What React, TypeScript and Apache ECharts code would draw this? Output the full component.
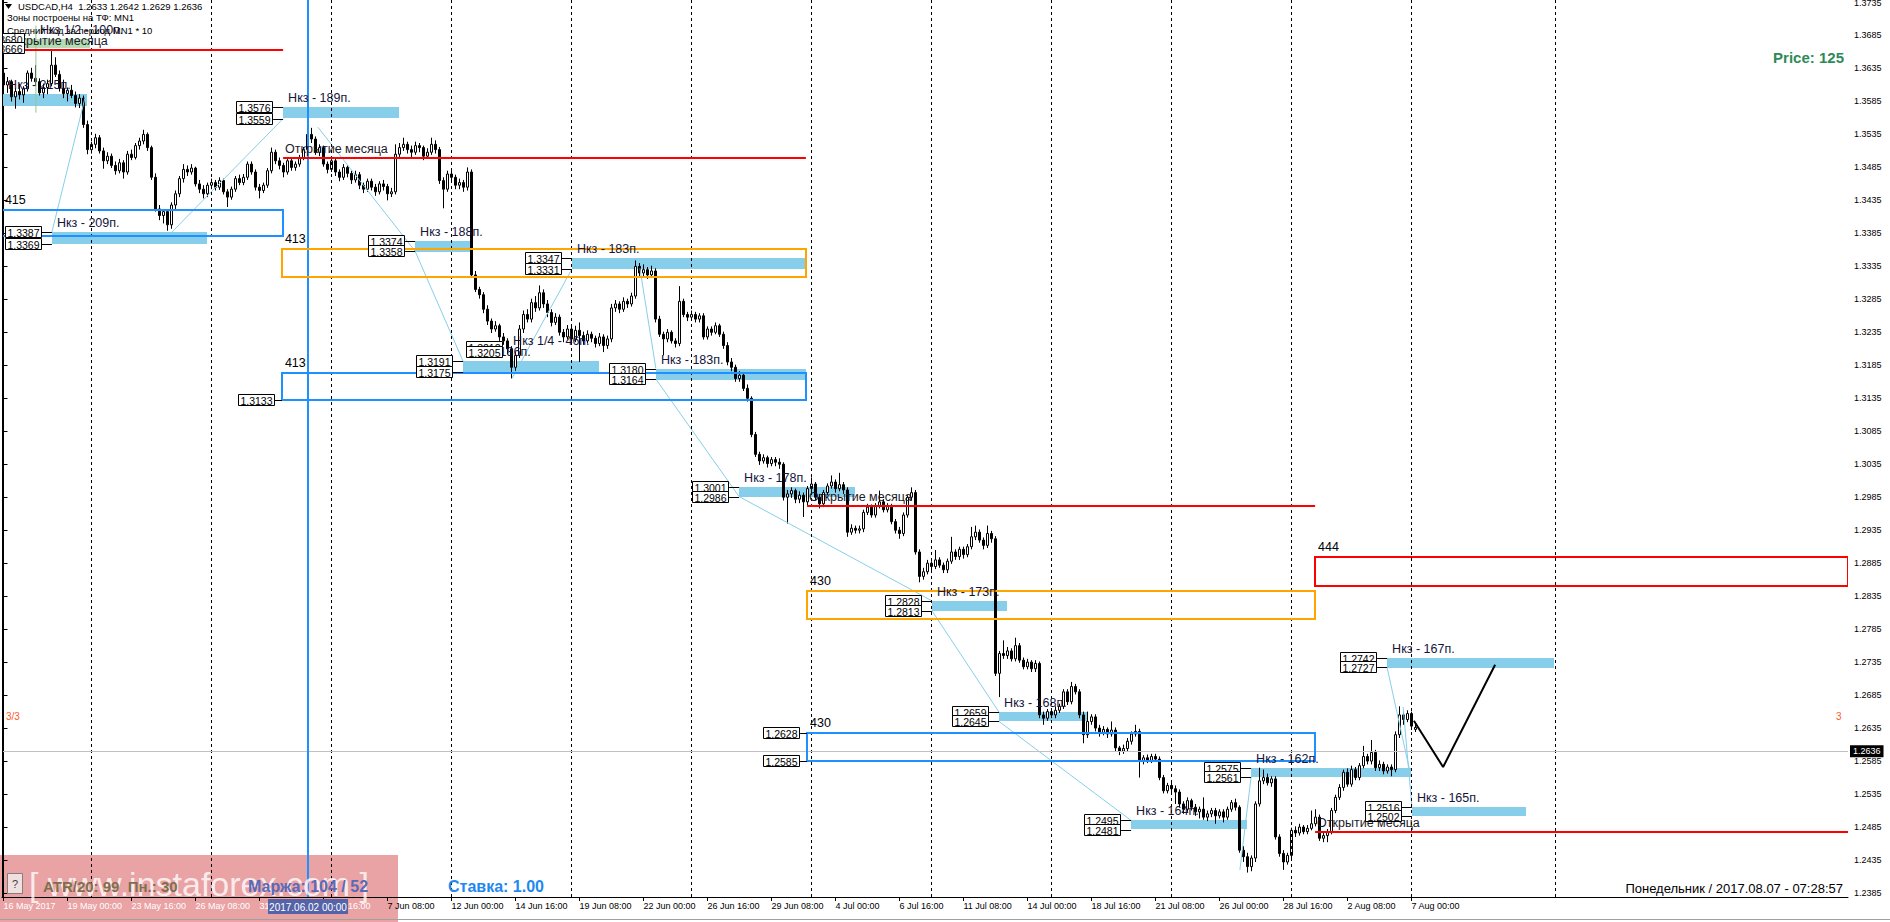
import { useEffect, useRef } from 'react';
import * as echarts from 'echarts';

const FONT = '"Liberation Sans", Arial, sans-serif';

// ---------- DATA ----------
// H4 bars, [open, high, low, close] in 1/10000 of a price unit, 16 May 2017 08:00 .. 7 Aug 2017 04:00
const ohlc: number[][] = [
  [13628,13643,13604,13610],[13610,13622,13598,13615],[13615,13618,13585,13592],[13592,13605,13574,13600],[13600,13612,13588,13595],[13595,13608,13583,13604],[13604,13632,13600,13628],[13628,13636,13615,13620],[13620,13640,13610,13615],[13615,13620,13594,13598],
  [13598,13612,13590,13606],[13606,13618,13596,13612],[13612,13662,13608,13640],[13640,13652,13622,13626],[13626,13632,13600,13605],[13605,13618,13590,13597],[13597,13606,13585,13602],[13602,13610,13590,13594],[13594,13600,13576,13582],[13582,13596,13575,13590],
  [13590,13594,13545,13550],[13550,13556,13505,13512],[13512,13524,13506,13520],[13520,13536,13514,13530],[13530,13534,13506,13510],[13510,13515,13483,13495],[13495,13508,13490,13502],[13502,13506,13484,13488],[13488,13494,13474,13480],[13480,13498,13476,13492],
  [13492,13496,13468,13478],[13478,13510,13474,13505],[13505,13512,13496,13500],[13500,13522,13497,13518],[13518,13530,13512,13525],[13525,13542,13520,13535],[13535,13538,13510,13515],[13515,13518,13466,13470],[13470,13476,13418,13422],[13422,13428,13405,13412],
  [13412,13422,13400,13418],[13418,13420,13389,13398],[13398,13432,13392,13428],[13428,13450,13420,13445],[13445,13472,13440,13468],[13468,13490,13462,13482],[13482,13488,13472,13478],[13478,13490,13474,13484],[13484,13486,13456,13460],[13460,13466,13446,13452],
  [13452,13458,13438,13445],[13445,13462,13440,13458],[13458,13468,13452,13462],[13462,13466,13450,13455],[13455,13470,13451,13465],[13465,13468,13444,13448],[13448,13452,13425,13440],[13440,13456,13436,13452],[13452,13472,13448,13468],[13468,13474,13458,13462],
  [13462,13475,13458,13470],[13470,13494,13466,13490],[13490,13494,13474,13478],[13478,13482,13450,13455],[13455,13460,13438,13450],[13450,13462,13446,13458],[13458,13484,13454,13480],[13480,13515,13476,13508],[13508,13512,13490,13495],[13495,13500,13482,13488],
  [13488,13492,13470,13478],[13478,13500,13474,13495],[13495,13498,13480,13485],[13485,13494,13480,13490],[13490,13504,13486,13500],[13500,13516,13496,13512],[13512,13540,13508,13535],[13535,13545,13522,13528],[13528,13532,13504,13508],[13508,13520,13502,13515],
  [13515,13518,13486,13490],[13490,13494,13476,13482],[13482,13500,13478,13495],[13495,13498,13472,13478],[13478,13482,13464,13470],[13470,13490,13466,13485],[13485,13488,13470,13476],[13476,13480,13460,13466],[13466,13480,13462,13474],[13474,13478,13452,13458],
  [13458,13462,13446,13452],[13452,13468,13448,13464],[13464,13468,13450,13455],[13455,13460,13442,13448],[13448,13464,13444,13460],[13460,13466,13450,13456],[13456,13460,13435,13445],[13445,13454,13440,13448],[13448,13520,13444,13505],[13505,13522,13500,13515],
  [13515,13530,13510,13520],[13520,13524,13506,13512],[13512,13518,13500,13508],[13508,13524,13504,13518],[13518,13522,13508,13515],[13515,13518,13496,13502],[13502,13514,13498,13508],[13508,13530,13504,13520],[13520,13526,13506,13512],[13512,13516,13460,13465],
  [13465,13470,13423,13452],[13452,13480,13448,13475],[13475,13480,13464,13470],[13470,13474,13452,13458],[13458,13468,13452,13462],[13462,13466,13448,13455],[13455,13485,13450,13478],[13478,13482,13318,13322],[13322,13328,13296,13300],[13300,13304,13286,13292],
  [13292,13296,13264,13270],[13270,13276,13246,13252],[13252,13256,13234,13240],[13240,13252,13236,13245],[13245,13248,13222,13228],[13228,13234,13216,13222],[13222,13226,13202,13210],[13210,13214,13165,13182],[13182,13205,13176,13200],[13200,13246,13196,13240],
  [13240,13268,13234,13262],[13262,13270,13250,13255],[13255,13286,13250,13280],[13280,13290,13266,13272],[13272,13306,13268,13295],[13295,13300,13272,13278],[13278,13284,13258,13265],[13265,13270,13244,13250],[13250,13264,13246,13258],[13258,13262,13230,13235],
  [13235,13240,13220,13228],[13228,13246,13224,13240],[13240,13244,13218,13225],[13225,13245,13220,13238],[13238,13250,13190,13230],[13230,13236,13216,13222],[13222,13238,13218,13232],[13232,13236,13220,13226],[13226,13230,13212,13218],[13218,13234,13214,13228],
  [13228,13232,13205,13215],[13215,13230,13210,13225],[13225,13278,13220,13272],[13272,13284,13266,13278],[13278,13282,13264,13270],[13270,13288,13266,13282],[13282,13286,13272,13278],[13278,13295,13274,13290],[13290,13344,13286,13335],[13335,13340,13320,13325],
  [13325,13338,13320,13330],[13330,13334,13316,13322],[13322,13336,13318,13328],[13328,13332,13250,13255],[13255,13260,13228,13232],[13232,13236,13200,13225],[13225,13240,13220,13235],[13235,13238,13218,13222],[13222,13226,13212,13218],[13218,13305,13214,13282],
  [13282,13286,13258,13262],[13262,13266,13252,13258],[13258,13268,13254,13262],[13262,13266,13250,13255],[13255,13264,13250,13260],[13260,13264,13224,13228],[13228,13244,13224,13240],[13240,13244,13230,13235],[13235,13250,13232,13245],[13245,13248,13228,13232],
  [13232,13236,13210,13215],[13215,13220,13185,13190],[13190,13196,13176,13182],[13182,13186,13160,13165],[13165,13176,13160,13170],[13170,13174,13146,13150],[13150,13156,13130,13135],[13135,13138,13076,13080],[13080,13084,13046,13050],[13050,13054,13034,13040],
  [13040,13050,13036,13045],[13045,13048,13030,13036],[13036,13046,13032,13042],[13042,13046,13032,13038],[13038,13044,13028,13035],[13035,13038,12980,12985],[12985,12996,12945,12990],[12990,13000,12984,12995],[12995,12998,12976,12982],[12982,12994,12976,12988],
  [12988,12992,12955,12978],[12978,13002,12972,12998],[12998,13015,12992,13005],[13005,13008,12980,12985],[12985,12990,12968,12975],[12975,12996,12970,12992],[12992,13006,12988,13002],[13002,13018,12998,13008],[13008,13012,12992,12998],[12998,13022,12994,13004],
  [13004,13008,12990,12996],[12996,13000,12925,12932],[12932,12944,12928,12938],[12938,12942,12930,12935],[12935,12942,12930,12937],[12937,12966,12932,12962],[12962,12975,12958,12970],[12970,12974,12954,12958],[12958,12976,12954,12972],[12972,12995,12968,12978],
  [12978,12982,12962,12966],[12966,12976,12962,12972],[12972,12975,12944,12948],[12948,12952,12930,12935],[12935,12940,12922,12930],[12930,12962,12926,12958],[12958,12988,12954,12985],[12985,13000,12980,12992],[12992,12996,12898,12902],[12902,12906,12856,12865],
  [12865,12878,12860,12872],[12872,12890,12868,12885],[12885,12888,12874,12880],[12880,12905,12876,12890],[12890,12894,12878,12882],[12882,12886,12870,12875],[12875,12892,12870,12888],[12888,12925,12884,12902],[12902,12906,12890,12895],[12895,12910,12890,12906],
  [12906,12910,12892,12898],[12898,12914,12894,12910],[12910,12940,12906,12925],[12925,12942,12920,12932],[12932,12936,12916,12920],[12920,12924,12906,12912],[12912,12942,12908,12930],[12930,12934,12916,12922],[12922,12926,12714,12718],[12718,12752,12682,12748],
  [12748,12768,12740,12745],[12745,12758,12740,12752],[12752,12756,12736,12740],[12740,12772,12736,12760],[12760,12764,12734,12738],[12738,12742,12724,12728],[12728,12740,12724,12735],[12735,12738,12720,12725],[12725,12738,12720,12733],[12733,12736,12650,12655],
  [12655,12660,12640,12650],[12650,12664,12646,12660],[12660,12664,12650,12655],[12655,12668,12650,12662],[12662,12672,12658,12668],[12668,12694,12664,12690],[12690,12694,12670,12675],[12675,12705,12671,12698],[12698,12702,12686,12690],[12690,12694,12650,12655],
  [12655,12660,12612,12625],[12625,12660,12620,12645],[12645,12656,12640,12652],[12652,12656,12630,12635],[12635,12640,12622,12628],[12628,12638,12624,12633],[12633,12636,12620,12626],[12626,12645,12622,12632],[12632,12636,12600,12605],[12605,12608,12594,12600],
  [12600,12610,12596,12604],[12604,12620,12600,12615],[12615,12630,12610,12626],[12626,12640,12622,12630],[12630,12634,12560,12585],[12585,12594,12580,12590],[12590,12595,12582,12586],[12586,12596,12582,12592],[12592,12596,12584,12588],[12588,12592,12556,12560],
  [12560,12564,12536,12540],[12540,12552,12536,12548],[12548,12552,12538,12543],[12543,12548,12520,12538],[12538,12542,12515,12520],[12520,12524,12505,12512],[12512,12530,12508,12525],[12525,12528,12510,12515],[12515,12520,12502,12508],[12508,12516,12498,12512],
  [12512,12530,12496,12500],[12500,12510,12494,12505],[12505,12514,12500,12510],[12510,12514,12490,12502],[12502,12512,12498,12508],[12508,12512,12492,12500],[12500,12516,12496,12512],[12512,12526,12508,12522],[12522,12528,12510,12515],[12515,12518,12446,12450],
  [12450,12456,12432,12440],[12440,12446,12416,12425],[12425,12442,12418,12438],[12438,12524,12432,12520],[12520,12575,12516,12555],[12555,12572,12550,12560],[12560,12566,12548,12552],[12552,12562,12546,12558],[12558,12562,12466,12470],[12470,12474,12440,12445],
  [12445,12450,12420,12432],[12432,12446,12428,12442],[12442,12484,12438,12480],[12480,12486,12470,12476],[12476,12490,12472,12485],[12485,12488,12474,12478],[12478,12488,12474,12483],[12483,12510,12480,12490],[12490,12512,12486,12500],[12500,12504,12464,12468],
  [12468,12478,12462,12472],[12472,12482,12462,12478],[12478,12514,12474,12510],[12510,12534,12506,12530],[12530,12550,12526,12545],[12545,12572,12540,12568],[12568,12574,12546,12550],[12550,12578,12546,12572],[12572,12576,12556,12560],[12560,12582,12556,12578],
  [12578,12608,12574,12592],[12592,12596,12580,12585],[12585,12617,12580,12598],[12598,12602,12570,12575],[12575,12586,12570,12580],[12580,12584,12565,12570],[12570,12580,12566,12576],[12576,12580,12562,12572],[12572,12630,12568,12625],[12625,12668,12620,12655],
  [12655,12660,12640,12648],[12648,12662,12644,12657],[12657,12660,12632,12638],[12633,12642,12629,12636],
];

const timeTickIndex = [0,16,32,48,64,80,96,112,128,144,160,176,192,208,224,240,256,272,288,304,320,336,352];
const timeTickLabels = ['16 May 2017','19 May 00:00','23 May 16:00','26 May 08:00','31 May 00:00','2 Jun 16:00','7 Jun 08:00','12 Jun 00:00','14 Jun 16:00','19 Jun 08:00','22 Jun 00:00','26 Jun 16:00','29 Jun 08:00','4 Jul 00:00','6 Jul 16:00','11 Jul 08:00','14 Jul 00:00','18 Jul 16:00','21 Jul 08:00','26 Jul 00:00','28 Jul 16:00','2 Aug 08:00','7 Aug 00:00'];
const priceTickLabels = ['1.2385','1.2435','1.2485','1.2535','1.2585','1.2635','1.2685','1.2735','1.2785','1.2835','1.2885','1.2935','1.2985','1.3035','1.3085','1.3135','1.3185','1.3235','1.3285','1.3335','1.3385','1.3435','1.3485','1.3535','1.3585','1.3635','1.3685','1.3735'];
const weekSeparators = [22,52,82,112,142,172,202,232,262,292,322,352,388];
const selectedBar = 76;
const selectedBarLabel = '2017.06.02 00:00';
const lastPrice = 1.2636;

// monthly open levels: [fromBar, toBar, price]
const monthOpens = [[-0.1,69.9,1.3663],[69.9,200.6,1.3500],[200.9,327.9,1.2971],[327.9,461.2,1.2478]];
const monthOpenLabel = 'Открытие месяца';

// zones: [fromBar, toBar, top, bottom]
const zones = [
  { x1: -0.4, x2: 69.9, top: 1.3420, bot: 1.3380, kind: 'blue', label: '415', boxes: [] as number[] },
  { x1: 69.6, x2: 200.6, top: 1.3362, bot: 1.3319, kind: 'orange', label: '413', boxes: [] as number[] },
  { x1: 69.6, x2: 200.6, top: 1.3174, bot: 1.3133, kind: 'blue', label: '413', boxes: [1.3133] },
  { x1: 200.9, x2: 327.9, top: 1.2843, bot: 1.2800, kind: 'orange', label: '430', boxes: [] as number[] },
  { x1: 200.9, x2: 327.9, top: 1.2628, bot: 1.2585, kind: 'blue', label: '430', boxes: [1.2628, 1.2585] },
  { x1: 327.9, x2: 461.2, top: 1.2894, bot: 1.2850, kind: 'red', label: '444', boxes: [] as number[] },
];

// "Нкз" bands
const nkz = [
  { x1: -0.1, x2: 21.6, top: 1.3680, bot: 1.3666, label: 'Нкз 1/2 - 100п.', kind: 'half', labelAt: 9.1, boxAt: 5.4 },
  { x1: -0.1, x2: 20.9, top: 1.3597, bot: 1.3579, label: 'Нкз - 215п.', kind: 'full', labelAt: null, boxAt: -20 },
  { x1: 12.1, x2: 50.9, top: 1.3387, bot: 1.3369, label: 'Нкз - 209п.', kind: 'full', labelAt: null, boxAt: null },
  { x1: 69.9, x2: 98.9, top: 1.3576, bot: 1.3559, label: 'Нкз - 189п.', kind: 'full', labelAt: null, boxAt: null },
  { x1: 102.9, x2: 116.6, top: 1.3374, bot: 1.3358, label: 'Нкз - 188п.', kind: 'full', labelAt: null, boxAt: null },
  { x1: 114.9, x2: 148.9, top: 1.3191, bot: 1.3175, label: 'Нкз - 186п.', kind: 'full', labelAt: null, boxAt: null },
  { x1: 142.1, x2: 200.6, top: 1.3347, bot: 1.3331, label: 'Нкз - 183п.', kind: 'full', labelAt: null, boxAt: null },
  { x1: 163.1, x2: 200.6, top: 1.3180, bot: 1.3164, label: 'Нкз - 183п.', kind: 'full', labelAt: null, boxAt: null },
  { x1: 183.9, x2: 212.9, top: 1.3001, bot: 1.2986, label: 'Нкз - 178п.', kind: 'full', labelAt: null, boxAt: null },
  { x1: 232.1, x2: 250.9, top: 1.2828, bot: 1.2813, label: 'Нкз - 173п.', kind: 'full', labelAt: null, boxAt: null },
  { x1: 248.9, x2: 270.9, top: 1.2659, bot: 1.2645, label: 'Нкз - 168п.', kind: 'full', labelAt: null, boxAt: null },
  { x1: 281.9, x2: 310.9, top: 1.2495, bot: 1.2481, label: 'Нкз - 164п.', kind: 'full', labelAt: null, boxAt: null },
  { x1: 311.9, x2: 351.9, top: 1.2575, bot: 1.2561, label: 'Нкз - 162п.', kind: 'full', labelAt: null, boxAt: null },
  { x1: 345.9, x2: 387.6, top: 1.2742, bot: 1.2727, label: 'Нкз - 167п.', kind: 'full', labelAt: null, boxAt: null },
  { x1: 352.1, x2: 380.6, top: 1.2516, bot: 1.2502, label: 'Нкз - 165п.', kind: 'full', labelAt: null, boxAt: null },
];
const extraBoxes = [[124.9, 1.3212], [124.9, 1.3205]];
const extraTexts: [number, number, string][] = [[127.4, 1.3222, 'Нкз 1/4 - 46п.']];

// thin connecting segments: [bar1, price1, bar2, price2]
const zigzag = [
  [20.4,1.3591,12.1,1.3387],[42.1,1.3387,69.9,1.3559],[78.6,1.3546,102.9,1.3358],[102.9,1.3358,114.9,1.3191],
  [127.1,1.3165,142.1,1.3331],[159.1,1.3332,163.1,1.3180],[163.1,1.3164,183.9,1.2986],[183.9,1.2986,232.1,1.2828],
  [232.1,1.2813,248.9,1.2659],[248.9,1.2645,281.9,1.2495],[309.1,1.2420,311.9,1.2561],[351.9,1.2561,345.9,1.2727],
  [349.9,1.2667,352.1,1.2516],
];
const greenMarker = [[8.1,1.3700,8.1,1.3568]];
const forecast = [[352.6,1.2646],[359.9,1.2576],[372.9,1.2731]];

// ---------- STYLE ----------
const Y_MIN = 1.237894, Y_MAX = 1.373879;
const X_MIN = -0.375, X_MAX = 461.125;
const ZONE_COLORS: Record<string, string> = { blue: '#1E90FF', orange: '#FFA500', red: '#FF0000' };
const NKZ_FILL: Record<string, string> = { full: '#87CEEB', half: '#b4dcb4' };
const TEXT_DARK = '#14143c';

const txt = (x: number, y: number, text: string, size: number, fill: string, align = 'left', weight = 'normal') => ({
  type: 'text', x, y,
  style: { text, fill, fontSize: size, fontFamily: FONT, fontWeight: weight, align, verticalAlign: 'middle', textAlign: align, textVerticalAlign: 'middle' },
});

const boxEls = (xr: number, yc: number, price: number) => {
  const x = Math.round(xr) - 36.5, y = Math.round(yc) - 5.5;
  return [
    { type: 'rect', shape: { x, y, width: 36, height: 11 }, style: { fill: '#fff', stroke: '#000', lineWidth: 1 } },
    txt(x + 18, y + 6, price.toFixed(4), 10.5, '#000', 'center'),
  ];
};
const hline = (x1: number, x2: number, y: number, stroke: string, w = 1) => ({
  type: 'line', shape: { x1, y1: Math.round(y) + (w === 1 ? 0.5 : 0), x2, y2: Math.round(y) + (w === 1 ? 0.5 : 0) }, style: { stroke, lineWidth: w },
});

export default function App() {
  const ref = useRef<HTMLDivElement>(null);
  useEffect(() => {
    const chart = echarts.init(ref.current!, null, { renderer: 'svg' });
    const priceTicks = priceTickLabels.map(Number);

    const option: any = {
      animation: false,
      backgroundColor: '#fff',
      grid: { left: 2, right: 42, top: 0, bottom: 25, containLabel: false, outerBoundsMode: 'none' },
      xAxis: {
        type: 'value', min: X_MIN, max: X_MAX,
        axisLine: { onZero: false, lineStyle: { color: '#000', width: 1 } },
        axisTick: { show: true, length: 4, customValues: timeTickIndex, lineStyle: { color: '#000' } },
        axisLabel: {
          customValues: timeTickIndex, align: 'left', margin: 4, fontSize: 9, fontFamily: FONT,
          color: (v: any) => (parseFloat(v) < 90 ? '#ffffff' : '#000000'),
          formatter: (v: number) => timeTickLabels[timeTickIndex.indexOf(Math.round(v))] ?? '',
        },
        splitLine: { show: false },
      },
      yAxis: {
        type: 'value', position: 'right', min: Y_MIN, max: Y_MAX,
        axisLine: { show: true, lineStyle: { color: '#000', width: 1 } },
        axisTick: { show: true, length: 4, customValues: priceTicks, lineStyle: { color: '#000' } },
        axisLabel: {
          customValues: priceTicks, margin: 6, fontSize: 9, fontFamily: FONT, color: '#000',
          formatter: (v: number) => { const k = priceTicks.findIndex(t => Math.abs(t - v) < 1e-6); return k >= 0 ? priceTickLabels[k] : ''; },
        },
        splitLine: { show: false },
      },
      series: [
        {
          type: 'custom', name: 'nkzFill', z: 1, clip: true,
          data: nkz.map(n => [n.x1, n.top, n.x2, n.bot]),
          encode: { x: [0, 2], y: [1, 3] },
          renderItem: (params: any, api: any) => {
            const n = nkz[params.dataIndex];
            const a = api.coord([n.x1, n.top]);
            const b = api.coord([n.x2, n.bot]);
            return { type: 'rect', shape: { x: Math.round(a[0]), y: Math.round(a[1]), width: Math.round(b[0] - a[0]), height: Math.round(b[1] - a[1]) }, style: { fill: NKZ_FILL[n.kind] } };
          },
          markLine: {
            silent: true, symbol: ['none', 'none'], label: { show: false }, animation: false,
            data: [
              ...weekSeparators.map(x => ({ xAxis: x, lineStyle: { color: '#000', width: 1, type: [3, 3] } })),
              { yAxis: lastPrice, lineStyle: { color: '#c0c0c0', width: 1, type: 'solid' },
                label: { show: true, position: 'end', distance: 2, formatter: () => lastPrice.toFixed(4), backgroundColor: '#000', color: '#fff', padding: [2, 3, 1, 3], fontSize: 9, fontFamily: FONT } },
              { xAxis: selectedBar, lineStyle: { color: '#1E90FF', width: 2, type: 'solid' } },
            ],
          },
        },
        {
          type: 'candlestick', z: 3,
          data: ohlc.map((b, i) => [i, b[0] / 1e4, b[3] / 1e4, b[2] / 1e4, b[1] / 1e4]),
          encode: { x: 0, y: [1, 2, 3, 4] },
          barWidth: 3,
          itemStyle: { color: '#ffffff', color0: '#000000', borderColor: '#000000', borderColor0: '#000000', borderWidth: 1 },
        },
        {
          type: 'custom', name: 'segments', z: 4, clip: true,
          data: [...zigzag, ...greenMarker].map(s => [s[0], s[1], s[2], s[3]]),
          encode: { x: [0, 2], y: [1, 3] },
          renderItem: (params: any, api: any) => {
            const all = [...zigzag, ...greenMarker];
            const s = all[params.dataIndex];
            const a = api.coord([s[0], s[1]]);
            const b = api.coord([s[2], s[3]]);
            const green = params.dataIndex >= zigzag.length;
            return { type: 'line', shape: { x1: a[0], y1: a[1], x2: b[0], y2: b[1] }, style: { stroke: green ? '#8fc88f' : '#87CEEB', lineWidth: 1 } };
          },
        },
        {
          type: 'custom', name: 'monthOpens', z: 5, clip: true,
          data: monthOpens.map(m => [m[0], m[2], m[1], m[2]]),
          encode: { x: [0, 2], y: [1, 3] },
          renderItem: (params: any, api: any) => {
            const m = monthOpens[params.dataIndex];
            const a = api.coord([m[0], m[2]]);
            const b = api.coord([m[1], m[2]]);
            return { type: 'group', children: [
              hline(a[0], b[0], a[1], '#FF0000', 2),
              txt(a[0] + 2, a[1] - 9, monthOpenLabel, 12.5, '#1a1a2a'),
            ] };
          },
        },
        {
          type: 'custom', name: 'zones', z: 5, clip: true,
          data: zones.map(z => [z.x1, z.top, z.x2, z.bot]),
          encode: { x: [0, 2], y: [1, 3] },
          renderItem: (params: any, api: any) => {
            const z = zones[params.dataIndex];
            const a = api.coord([z.x1, z.top]);
            const b = api.coord([z.x2, z.bot]);
            const ch: any[] = [
              { type: 'rect', shape: { x: Math.round(a[0]), y: Math.round(a[1]), width: Math.round(b[0] - a[0]), height: Math.round(b[1] - a[1]) }, style: { fill: 'none', stroke: ZONE_COLORS[z.kind], lineWidth: 2 } },
              txt(a[0] + 3, a[1] - 10, z.label, 12.5, '#000'),
            ];
            z.boxes.forEach(p => {
              const c = api.coord([z.x1, p]);
              ch.push(hline(a[0] - 7, a[0], c[1], '#000'));
              ch.push(...boxEls(a[0] - 7, c[1], p));
            });
            return { type: 'group', children: ch };
          },
        },
        {
          type: 'custom', name: 'nkzAnno', z: 6, clip: true,
          data: nkz.map(n => [n.x1, n.top, n.x2, n.bot]),
          encode: { x: [0, 2], y: [1, 3] },
          renderItem: (params: any, api: any) => {
            const n = nkz[params.dataIndex];
            const a = api.coord([n.x1, n.top]);
            const b = api.coord([n.x1, n.bot]);
            const lx = n.labelAt != null ? api.coord([n.labelAt, n.top])[0] : a[0] + 5;
            const bx = n.boxAt != null ? api.coord([n.boxAt, n.top])[0] : a[0] - 10;
            const ch: any[] = [];
            ch.push(hline(bx, a[0], a[1], '#000'));
            ch.push(hline(bx, a[0], b[1], '#000'));
            ch.push(...boxEls(bx, a[1], n.top));
            ch.push(...boxEls(bx, b[1], n.bot));
            ch.push(txt(lx, a[1] - 9, n.label, 12.5, TEXT_DARK));
            return { type: 'group', children: ch };
          },
        },
        {
          type: 'custom', name: 'extra', z: 6, clip: true,
          data: [...extraBoxes.map(e => [e[0], e[1]]), ...extraTexts.map(t => [t[0], t[1]])],
          encode: { x: 0, y: 1 },
          renderItem: (params: any, api: any) => {
            const i = params.dataIndex;
            if (i < extraBoxes.length) {
              const e = extraBoxes[i];
              const c = api.coord([e[0], e[1]]);
              return { type: 'group', children: boxEls(c[0], c[1], e[1]) };
            }
            const t = extraTexts[i - extraBoxes.length];
            const c = api.coord([t[0], t[1]]);
            return txt(c[0], c[1], t[2], 12.5, TEXT_DARK);
          },
        },
        {
          type: 'line', z: 7, data: forecast, symbol: 'none', silent: true,
          lineStyle: { color: '#000', width: 2 },
        },
        {
          type: 'custom', name: 'selLabel', z: 20, clip: false,
          data: [[selectedBar, Y_MIN]],
          encode: { x: 0, y: 1 },
          renderItem: (_p: any, api: any) => {
            const c = api.coord([selectedBar, Y_MIN]);
            return { type: 'group', children: [
              { type: 'rect', shape: { x: Math.round(c[0]) - 40, y: c[1] + 2, width: 80, height: 15 }, style: { fill: '#5563a8' } },
              txt(Math.round(c[0]), c[1] + 10, selectedBarLabel, 10, '#ffffff', 'center'),
            ] };
          },
        },
      ],
      graphic: [
        { type: 'rect', z: -5, shape: { x: 0, y: 855, width: 398, height: 67 }, style: { fill: '#e9a3a5' } },
        { type: 'line', z: 10, shape: { x1: 2.5, y1: 0, x2: 2.5, y2: 897 }, style: { stroke: '#000', lineWidth: 1 } },
        { type: 'line', z: 10, shape: { x1: 0, y1: 919.5, x2: 1890, y2: 919.5 }, style: { stroke: '#a0a0a0', lineWidth: 1 } },
        { type: 'polygon', z: 10, shape: { points: [[5, 4], [12, 4], [8.5, 9]] }, style: { fill: '#000' } },
        { ...txt(18, 6.5, 'USDCAD,H4  1.2633 1.2642 1.2629 1.2636', 9.5, '#000'), z: 10 },
        { ...txt(7, 17.5, 'Зоны построены на ТФ: MN1', 9.5, '#000'), z: 10 },
        { ...txt(7, 30.5, 'Средний ход за период MN1 * 10', 9.5, '#000'), z: 10 },
        { ...txt(1844, 57, 'Price: 125', 15, '#2e8b57', 'right', 'bold'), z: 10 },
        { ...txt(6, 716, '3/3', 10, '#ff5a2a'), z: 10 },
        { ...txt(1836, 716, '3', 10, '#ff5a2a'), z: 10 },
        { ...txt(199, 884, '[ www.instaforex.com ]', 34, 'rgba(255,255,255,0.8)', 'center'), z: 40 },
        { type: 'rect', z: 45, shape: { x: 7.5, y: 873.5, width: 15, height: 20 }, style: { fill: '#f0e0e0', stroke: '#808080', lineWidth: 1 } },
        { ...txt(15, 883.5, '?', 11, '#404040', 'center'), z: 46 },
        { ...txt(43, 886, 'ATR/20: 99  Пн.: 30', 15, '#7f6f4c', 'left', 'bold'), z: 45 },
        { ...txt(248, 886, 'Маржа: 104 / 52', 16, '#5a6ab8', 'left', 'bold'), z: 45 },
        { ...txt(448, 886, 'Ставка: 1.00', 16, '#1E88F0', 'left', 'bold'), z: 45 },
        { ...txt(1843, 888, 'Понедельник / 2017.08.07 - 07:28:57', 13, '#000', 'right'), z: 10 },
      ],
    };
    chart.setOption(option);
    return () => chart.dispose();
  }, []);
  return <div ref={ref} style={{ position: 'absolute', left: 0, top: 0, width: 1890, height: 922, background: '#fff' }} />;
}
